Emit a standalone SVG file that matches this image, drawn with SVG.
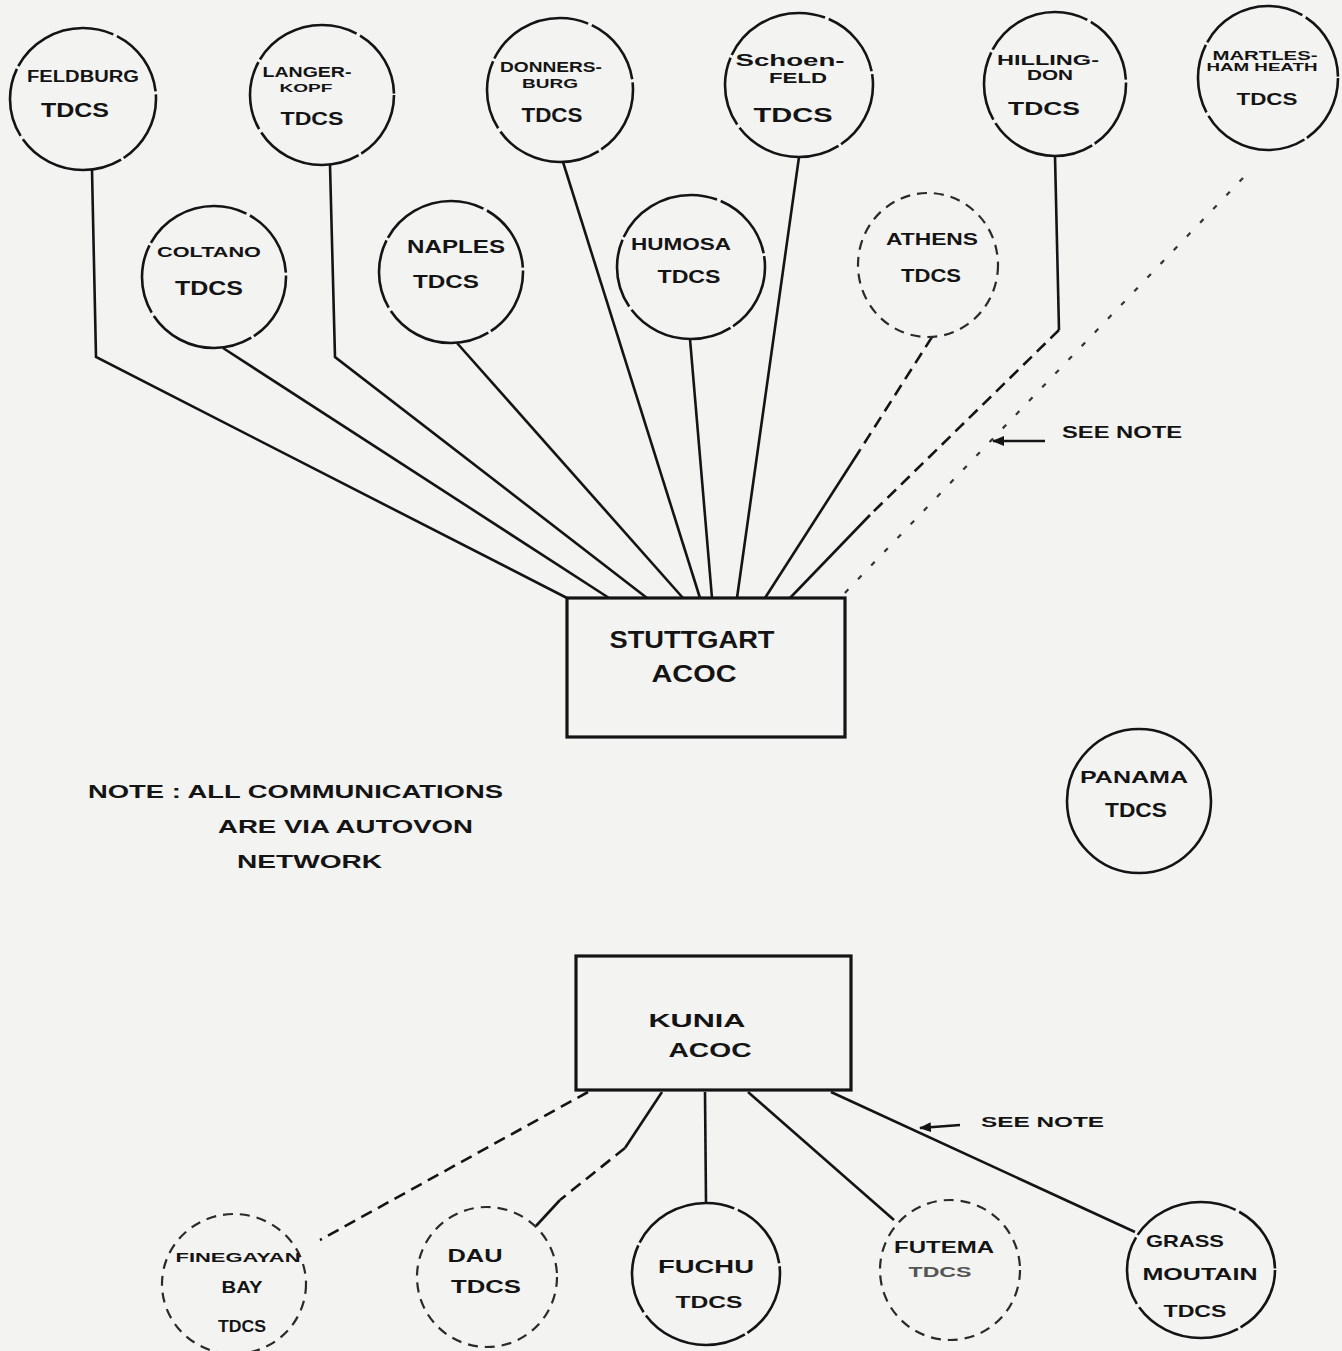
<svg xmlns="http://www.w3.org/2000/svg" width="1342" height="1351" viewBox="0 0 1342 1351">
  <defs>
    <style>
      .bg { fill: #f3f3f2; }
      .ring { fill: none; stroke: #141414; stroke-width: 2.6; }
      .ring.broken { stroke-dasharray: 70 3 110 4; }
      .ring.dashed { stroke-dasharray: 10 7; stroke: #2a2a2a; stroke-width: 2.2; }
      .box { fill: none; stroke: #141414; stroke-width: 3.2; }
      .wire { fill: none; stroke: #141414; stroke-width: 2.6; stroke-linejoin: miter; }
      .wire.dash { stroke-dasharray: 12 7; }
      .wire.dot { stroke-dasharray: 5 14; stroke-width: 2.2; stroke: #333; }
      .ptr { fill: none; stroke: #141414; stroke-width: 2.6; }
      .lbl { font-family: "Liberation Sans", Arial, sans-serif; font-weight: bold; fill: #141414; text-anchor: middle; }
      .note { font-family: "Liberation Sans", Arial, sans-serif; font-weight: bold; fill: #141414; }
      .faint { fill: #555; }
    </style>
    <marker id="head" markerWidth="12" markerHeight="10" refX="11" refY="5" orient="auto" markerUnits="userSpaceOnUse">
      <path d="M0,0 L12,5 L0,10 Z" fill="#141414"/>
    </marker>
  </defs>

  <rect class="bg" x="0" y="0" width="1342" height="1351"/>

  <!-- links between the sites and the two ACOC centres -->
  <g id="connectors">
    <polyline class="wire" points="92,170 96,357 567,598"/>
    <polyline class="wire" points="330,165 335,357 647,598"/>
    <line class="wire" x1="563" y1="162" x2="700" y2="598"/>
    <line class="wire" x1="799" y1="157" x2="737" y2="598"/>
    <polyline class="wire" points="1055,156 1059,330"/>
    <line class="wire dash" x1="1059" y1="330" x2="870" y2="515"/>
    <line class="wire" x1="870" y1="515" x2="790" y2="598"/>
    <line class="wire dot" x1="1243" y1="178" x2="840" y2="598"/>
    <line class="wire" x1="223" y1="348" x2="609" y2="598"/>
    <line class="wire" x1="457" y1="343" x2="683" y2="598"/>
    <line class="wire" x1="690" y1="339" x2="712" y2="598"/>
    <line class="wire dash" x1="932" y1="337" x2="860" y2="450"/>
    <line class="wire" x1="860" y1="450" x2="765" y2="598"/>

    <line class="wire dash" x1="588" y1="1092" x2="320" y2="1240"/>
    <line class="wire" x1="662" y1="1092" x2="625" y2="1148"/>
    <line class="wire dash" x1="625" y1="1148" x2="560" y2="1200"/>
    <line class="wire" x1="560" y1="1200" x2="536" y2="1226"/>
    <line class="wire" x1="705" y1="1092" x2="706" y2="1203"/>
    <line class="wire" x1="748" y1="1092" x2="894" y2="1220"/>
    <line class="wire" x1="831" y1="1092" x2="1135" y2="1232"/>

    <line class="ptr" x1="1045" y1="441" x2="993" y2="441" marker-end="url(#head)"/>
    <line class="ptr" x1="960" y1="1125" x2="920" y2="1128" marker-end="url(#head)"/>
  </g>

  <g id="feldburg">
    <ellipse class="ring broken" cx="83" cy="99" rx="73" ry="71"/>
    <text class="lbl" x="83" y="82" font-size="16" textLength="112" lengthAdjust="spacingAndGlyphs">FELDBURG</text>
    <text class="lbl" x="75" y="117" font-size="21" textLength="68" lengthAdjust="spacingAndGlyphs">TDCS</text>
  </g>
  <g id="langerkopf">
    <ellipse class="ring broken" cx="322" cy="95" rx="72" ry="70"/>
    <text class="lbl" x="307" y="77" font-size="14" textLength="89" lengthAdjust="spacingAndGlyphs">LANGER-</text>
    <text class="lbl" x="306" y="92" font-size="10" textLength="53" lengthAdjust="spacingAndGlyphs">KOPF</text>
    <text class="lbl" x="312" y="125" font-size="18" textLength="63" lengthAdjust="spacingAndGlyphs">TDCS</text>
  </g>
  <g id="donnersburg">
    <ellipse class="ring broken" cx="560" cy="90" rx="73" ry="72"/>
    <text class="lbl" x="551" y="72" font-size="15" textLength="102" lengthAdjust="spacingAndGlyphs">DONNERS-</text>
    <text class="lbl" x="550" y="88" font-size="12" textLength="56" lengthAdjust="spacingAndGlyphs">BURG</text>
    <text class="lbl" x="552" y="122" font-size="20" textLength="61" lengthAdjust="spacingAndGlyphs">TDCS</text>
  </g>
  <g id="schoenfeld">
    <ellipse class="ring broken" cx="799" cy="85" rx="74" ry="72"/>
    <text class="lbl" x="790" y="66" font-size="17" textLength="109" lengthAdjust="spacingAndGlyphs">Schoen-</text>
    <text class="lbl" x="798" y="83" font-size="14" textLength="58" lengthAdjust="spacingAndGlyphs">FELD</text>
    <text class="lbl" x="793" y="122" font-size="20" textLength="79" lengthAdjust="spacingAndGlyphs">TDCS</text>
  </g>
  <g id="hillingdon">
    <ellipse class="ring broken" cx="1055" cy="84" rx="71" ry="72"/>
    <text class="lbl" x="1048" y="65" font-size="15" textLength="102" lengthAdjust="spacingAndGlyphs">HILLING-</text>
    <text class="lbl" x="1050" y="80" font-size="15" textLength="46" lengthAdjust="spacingAndGlyphs">DON</text>
    <text class="lbl" x="1044" y="115" font-size="19" textLength="72" lengthAdjust="spacingAndGlyphs">TDCS</text>
  </g>
  <g id="martlesham-heath">
    <ellipse class="ring broken" cx="1268" cy="78" rx="70" ry="72"/>
    <text class="lbl" x="1265" y="60" font-size="13" textLength="105" lengthAdjust="spacingAndGlyphs">MARTLES-</text>
    <text class="lbl" x="1262" y="71" font-size="10" textLength="111" lengthAdjust="spacingAndGlyphs">HAM HEATH</text>
    <text class="lbl" x="1267" y="105" font-size="16" textLength="61" lengthAdjust="spacingAndGlyphs">TDCS</text>
  </g>

  <g id="coltano">
    <ellipse class="ring broken" cx="214" cy="277" rx="72" ry="71"/>
    <text class="lbl" x="209" y="257" font-size="15" textLength="104" lengthAdjust="spacingAndGlyphs">COLTANO</text>
    <text class="lbl" x="209" y="295" font-size="21" textLength="68" lengthAdjust="spacingAndGlyphs">TDCS</text>
  </g>
  <g id="naples">
    <ellipse class="ring broken" cx="451" cy="272" rx="72" ry="71"/>
    <text class="lbl" x="456" y="253" font-size="18" textLength="98" lengthAdjust="spacingAndGlyphs">NAPLES</text>
    <text class="lbl" x="446" y="288" font-size="18" textLength="66" lengthAdjust="spacingAndGlyphs">TDCS</text>
  </g>
  <g id="humosa">
    <ellipse class="ring broken" cx="691" cy="267" rx="74" ry="72"/>
    <text class="lbl" x="681" y="250" font-size="17" textLength="100" lengthAdjust="spacingAndGlyphs">HUMOSA</text>
    <text class="lbl" x="689" y="283" font-size="18" textLength="63" lengthAdjust="spacingAndGlyphs">TDCS</text>
  </g>
  <g id="athens">
    <ellipse class="ring dashed" cx="928" cy="265" rx="70" ry="72"/>
    <text class="lbl" x="932" y="245" font-size="16" textLength="92" lengthAdjust="spacingAndGlyphs">ATHENS</text>
    <text class="lbl" x="931" y="282" font-size="18" textLength="60" lengthAdjust="spacingAndGlyphs">TDCS</text>
  </g>

  <g id="stuttgart-acoc">
    <rect class="box" x="567" y="598" width="278" height="139"/>
    <text class="lbl" x="692" y="648" font-size="24" textLength="165" lengthAdjust="spacingAndGlyphs">STUTTGART</text>
    <text class="lbl" x="694" y="682" font-size="24" textLength="85" lengthAdjust="spacingAndGlyphs">ACOC</text>
  </g>

  <g id="see-note-upper">
    <text class="note" x="1062" y="438" font-size="16" textLength="120" lengthAdjust="spacingAndGlyphs">SEE NOTE</text>
  </g>

  <g id="note">
    <text class="note" x="88" y="798" font-size="19" textLength="415" lengthAdjust="spacingAndGlyphs">NOTE : ALL COMMUNICATIONS</text>
    <text class="note" x="218" y="833" font-size="19" textLength="255" lengthAdjust="spacingAndGlyphs">ARE VIA AUTOVON</text>
    <text class="note" x="237" y="868" font-size="19" textLength="145" lengthAdjust="spacingAndGlyphs">NETWORK</text>
  </g>

  <g id="panama">
    <ellipse class="ring" cx="1139" cy="801" rx="72" ry="72"/>
    <text class="lbl" x="1134" y="783" font-size="17" textLength="108" lengthAdjust="spacingAndGlyphs">PANAMA</text>
    <text class="lbl" x="1136" y="817" font-size="21" textLength="62" lengthAdjust="spacingAndGlyphs">TDCS</text>
  </g>

  <g id="kunia-acoc">
    <rect class="box" x="576" y="956" width="275" height="134"/>
    <text class="lbl" x="697" y="1027" font-size="19" textLength="97" lengthAdjust="spacingAndGlyphs">KUNIA</text>
    <text class="lbl" x="710" y="1057" font-size="21" textLength="83" lengthAdjust="spacingAndGlyphs">ACOC</text>
  </g>

  <g id="see-note-lower">
    <text class="note" x="981" y="1127" font-size="14" textLength="123" lengthAdjust="spacingAndGlyphs">SEE NOTE</text>
  </g>

  <g id="finegayan-bay">
    <ellipse class="ring dashed" cx="234" cy="1284" rx="72" ry="70"/>
    <text class="lbl" x="238" y="1262" font-size="13" textLength="125" lengthAdjust="spacingAndGlyphs">FINEGAYAN</text>
    <text class="lbl" x="242" y="1293" font-size="17" textLength="41" lengthAdjust="spacingAndGlyphs">BAY</text>
    <text class="lbl" x="242" y="1332" font-size="17" textLength="48" lengthAdjust="spacingAndGlyphs">TDCS</text>
  </g>
  <g id="dau">
    <ellipse class="ring dashed" cx="487" cy="1277" rx="70" ry="70"/>
    <text class="lbl" x="475" y="1262" font-size="18" textLength="55" lengthAdjust="spacingAndGlyphs">DAU</text>
    <text class="lbl" x="486" y="1293" font-size="18" textLength="70" lengthAdjust="spacingAndGlyphs">TDCS</text>
  </g>
  <g id="fuchu">
    <ellipse class="ring broken" cx="706" cy="1274" rx="74" ry="71"/>
    <text class="lbl" x="706" y="1273" font-size="18" textLength="96" lengthAdjust="spacingAndGlyphs">FUCHU</text>
    <text class="lbl" x="709" y="1308" font-size="17" textLength="67" lengthAdjust="spacingAndGlyphs">TDCS</text>
  </g>
  <g id="futema">
    <ellipse class="ring dashed" cx="950" cy="1270" rx="70" ry="70"/>
    <text class="lbl" x="944" y="1253" font-size="16" textLength="100" lengthAdjust="spacingAndGlyphs">FUTEMA</text>
    <text class="lbl faint" x="940" y="1277" font-size="14" textLength="63" lengthAdjust="spacingAndGlyphs">TDCS</text>
  </g>
  <g id="grass-mountain">
    <ellipse class="ring broken" cx="1201" cy="1270" rx="74" ry="68"/>
    <text class="lbl" x="1185" y="1247" font-size="17" textLength="78" lengthAdjust="spacingAndGlyphs">GRASS</text>
    <text class="lbl" x="1200" y="1280" font-size="17" textLength="115" lengthAdjust="spacingAndGlyphs">MOUTAIN</text>
    <text class="lbl" x="1195" y="1317" font-size="17" textLength="63" lengthAdjust="spacingAndGlyphs">TDCS</text>
  </g>
</svg>
